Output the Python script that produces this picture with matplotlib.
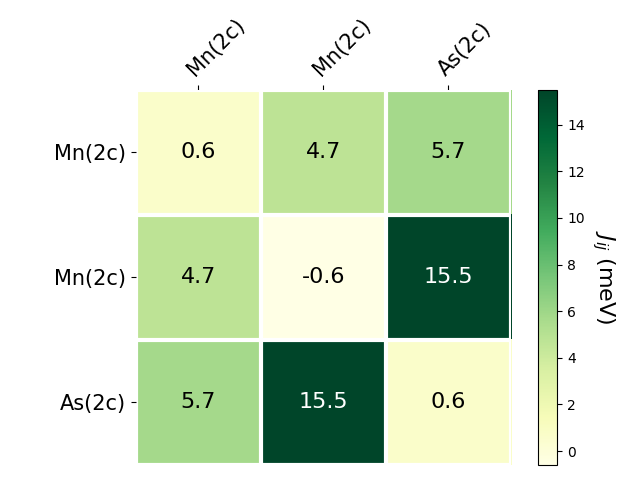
import numpy as np
import matplotlib.pyplot as plt

# site labels and exchange couplings (meV)
rows = ["Mn(2c)", "Mn(2c)", "As(2c)"]
cols = ["Mn(2c)", "Mn(2c)", "As(2c)"]
jij = np.array([[0.6, 4.7, 5.7],
                [4.7, -0.6, 15.5],
                [5.7, 15.5, 0.6]])

fig, ax = plt.subplots(figsize=(6.4, 4.8), dpi=100)

im = ax.imshow(jij, cmap="YlGn", vmin=jij.min(), vmax=jij.max())

cbar = ax.figure.colorbar(im, ax=ax)
cbar.ax.set_ylabel(r"$J_{ij}$ (meV)", rotation=-90, va="bottom", fontsize=16)

ax.set_xticks(np.arange(jij.shape[1]))
ax.set_yticks(np.arange(jij.shape[0]))
ax.set_xticklabels(cols, fontsize=15)
ax.set_yticklabels(rows, fontsize=15)

# labels on top
ax.tick_params(top=True, bottom=False, labeltop=True, labelbottom=False)
plt.setp(ax.get_xticklabels(), rotation=45, ha="left", rotation_mode="anchor")

for edge, spine in ax.spines.items():
    spine.set_visible(False)

# white grid between cells
ax.set_xticks(np.arange(jij.shape[1] + 1) - .5, minor=True)
ax.set_yticks(np.arange(jij.shape[0] + 1) - .5, minor=True)
ax.grid(which="minor", color="w", linestyle="-", linewidth=3)
ax.tick_params(which="minor", bottom=False, left=False, top=False)

threshold = im.norm(jij.max()) / 2.
for i in range(jij.shape[0]):
    for j in range(jij.shape[1]):
        c = "white" if im.norm(jij[i, j]) > threshold * 1.6 else "black"
        ax.text(j, i, "{:.1f}".format(jij[i, j]), ha="center", va="center",
                color=c, fontsize=16)

fig.tight_layout()
plt.savefig("out.png")
